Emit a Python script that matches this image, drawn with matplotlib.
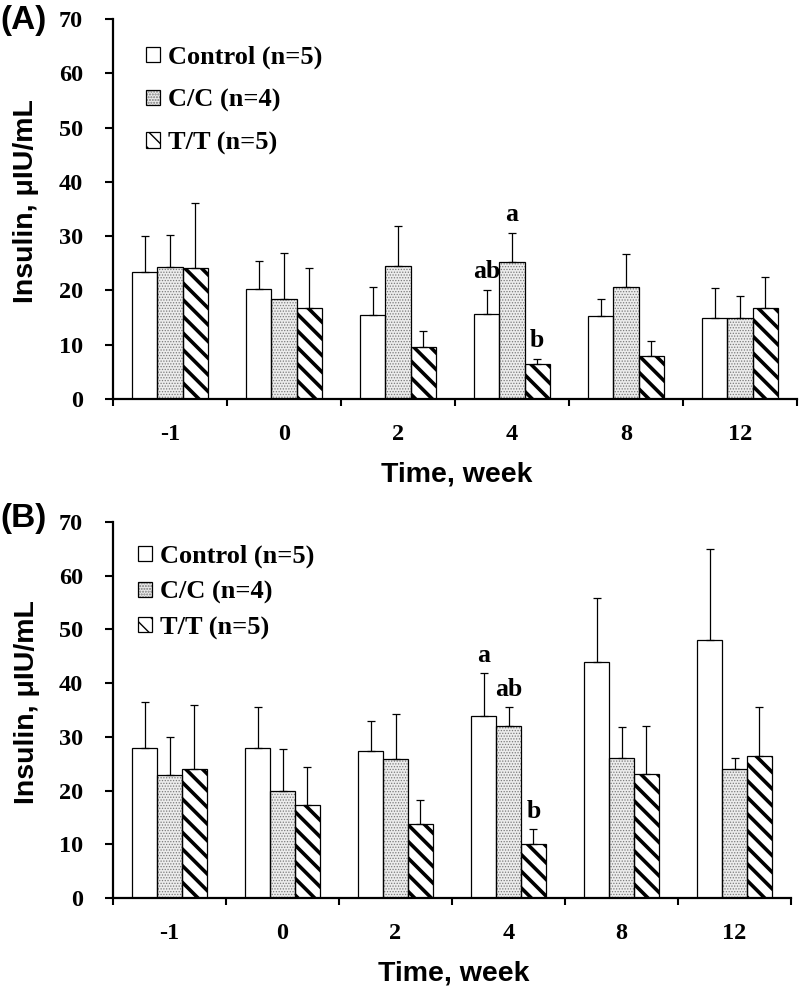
import numpy as np
import matplotlib.pyplot as plt
import matplotlib as mpl

### Data ###
weeks = ['-1', '0', '2', '4', '8', '12']
groups = ['Control (n=5)', 'C/C (n=4)', 'T/T (n=5)']

# panel A
a_ctrl = [23.4, 20.3, 15.4, 15.7, 15.3, 14.9]
a_ctrl_err = [6.7, 5.2, 5.2, 4.4, 3.2, 5.5]
a_cc = [24.3, 18.5, 24.5, 25.3, 20.6, 14.9]
a_cc_err = [5.9, 8.4, 7.4, 5.3, 6.1, 4.1]
a_tt = [24.1, 16.7, 9.6, 6.4, 7.9, 16.7]
a_tt_err = [12.0, 7.4, 3.0, 1.0, 2.8, 5.8]
a_letters = [(0, 3, 'ab'), (1, 3, 'a'), (2, 3, 'b')]

# panel B
b_ctrl = [28.0, 28.0, 27.4, 33.8, 43.9, 48.0]
b_ctrl_err = [8.5, 7.6, 5.6, 8.0, 11.9, 16.9]
b_cc = [22.9, 20.0, 25.8, 32.1, 26.1, 24.0]
b_cc_err = [7.0, 7.7, 8.4, 3.4, 5.7, 2.0]
b_tt = [24.0, 17.4, 13.8, 10.0, 23.1, 26.4]
b_tt_err = [11.9, 7.0, 4.4, 2.8, 9.0, 9.2]
b_letters = [(0, 3, 'a'), (1, 3, 'ab'), (2, 3, 'b')]

SERIF = 'Liberation Serif'
SANS = 'Liberation Sans'
W = 0.22


def bars(ax, x, vals, hatch, hlw, face, hcol):
    # fill + hatch layer (hatch colour follows edge colour)
    b1 = ax.bar(x, vals, W, color=face, edgecolor=hcol, hatch=hatch, linewidth=0, zorder=2)
    for p in b1:
        if hasattr(p, 'set_hatch_linewidth'):
            p.set_hatch_linewidth(hlw)
    # black outline layer
    b2 = ax.bar(x, vals, W, color='none', edgecolor='black', linewidth=0.9, zorder=3)
    return b1[0], b2[0]


def panel(ax, ctrl, ctrl_err, cc, cc_err, tt, tt_err, letters, leg_xy, leg_sp):
    x = np.arange(len(weeks))
    means = [ctrl, cc, tt]
    errs = [ctrl_err, cc_err, tt_err]
    offs = [-W, 0, W]
    styles = [('', 0.5, 'white', 'white'),
              ('......', 0.6, '#ececec', '#7a7a7a'),
              ('\\\\', 2.6, 'white', 'black')]
    handles = []
    for m, e, o, st in zip(means, errs, offs, styles):
        handles.append(bars(ax, x + o, m, *st))
        ax.errorbar(x + o, m, yerr=[np.zeros(len(m)), e], fmt='none', ecolor='black',
                    elinewidth=0.9, capsize=3, capthick=0.9, zorder=4)
    for g, w, t in letters:
        ax.text(x[w] + offs[g], means[g][w] + errs[g][w] + 3.3, t, ha='center', va='center',
                fontfamily=SERIF, fontweight='bold', fontsize=18.5)

    ax.set_xlim(-0.5, len(weeks) - 0.5)
    ax.set_ylim(0, 70)
    ax.set_yticks(np.arange(0, 71, 10))
    ax.set_xticks(x)
    ax.set_xticklabels(weeks)
    ax.set_xticks(np.arange(-0.5, len(weeks)), minor=True)
    ax.tick_params(axis='x', which='major', length=0, pad=18)
    ax.tick_params(axis='x', which='minor', length=5, width=1.5, direction='out')
    ax.tick_params(axis='y', length=5.5, width=1.5, direction='out', pad=16)
    for lab in ax.get_xticklabels() + ax.get_yticklabels():
        lab.set_fontfamily(SERIF)
        lab.set_fontweight('bold')
        lab.set_fontsize(17.5)
    for s in ['top', 'right']:
        ax.spines[s].set_visible(False)
    for s in ['left', 'bottom']:
        ax.spines[s].set_linewidth(1.6)

    ax.set_ylabel('Insulin, \u03bcIU/mL', fontfamily=SANS, fontweight='bold', fontsize=20.5)
    ax.yaxis.set_label_coords(-0.108, 0.52)
    ax.set_xlabel('Time, week', fontfamily=SANS, fontweight='bold', fontsize=20.5)
    ax.xaxis.set_label_coords(0.503, -0.2)
    ax.xaxis.label.set_va('center')

    fig.legend([tuple(h) for h in handles], groups, loc='upper left', bbox_to_anchor=leg_xy,
               frameon=False, borderpad=0, borderaxespad=0, handlelength=0.52,
               handleheight=0.52, handletextpad=0.3, labelspacing=leg_sp,
               handler_map={tuple: mpl.legend_handler.HandlerTuple(ndivide=1)},
               prop={'family': SERIF, 'weight': 'bold', 'size': 19})


fig = plt.figure(figsize=(7.99, 9.90), dpi=100)
axA = fig.add_axes([113 / 799, 1 - 399 / 990, 684 / 799, 380 / 990])
axB = fig.add_axes([113 / 799, 1 - 898 / 990, 678 / 799, 376 / 990])

panel(axA, a_ctrl, a_ctrl_err, a_cc, a_cc_err, a_tt, a_tt_err, a_letters,
      (146 / 799, 1 - 46 / 990), 0.73)
panel(axB, b_ctrl, b_ctrl_err, b_cc, b_cc_err, b_tt, b_tt_err, b_letters,
      (138 / 799, 1 - 545 / 990), 0.46)

fig.text(0.0, 1 - 20 / 990, '(A)', fontfamily=SANS, fontweight='bold', fontsize=24, va='center')
fig.text(0.0, 1 - 519 / 990, '(B)', fontfamily=SANS, fontweight='bold', fontsize=24, va='center')

fig.savefig('out.png', dpi=100)
